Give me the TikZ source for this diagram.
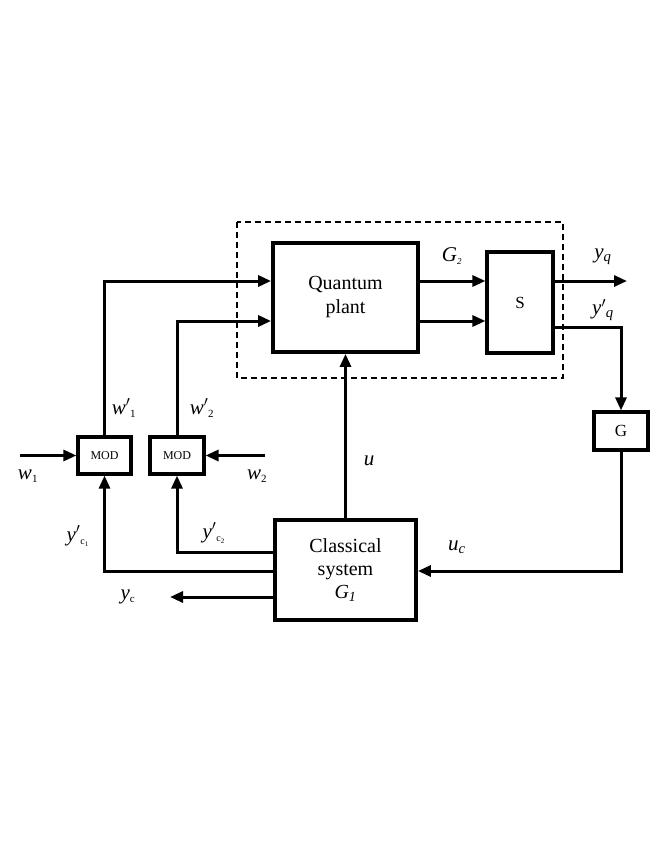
\documentclass[tikz,border=0pt]{standalone}
\usepackage{fontspec}
\setmainfont{Liberation Serif}
\usetikzlibrary{arrows.meta}
\begin{document}
\begin{tikzpicture}[x=1pt,y=-1pt,
  blk/.style={draw,line width=3.8pt,inner sep=0pt},
  sblk/.style={draw,line width=3.2pt,inner sep=0pt},
  con/.style={line width=3pt,-{Triangle[length=13pt,width=11pt]}},
  lab/.style={font=\fontsize{21}{21}\selectfont\itshape}]
\useasboundingbox (0,0) rectangle (654,845);
\draw[dashed,line width=1.3pt,dash pattern=on 6pt off 4pt] (237,222) rectangle (563,378);
\node[blk,minimum width=145pt,minimum height=109pt,align=center,font=\fontsize{20}{24}\selectfont] (qp) at (345.5,297.5) {Quantum\\plant};
\node[sblk,minimum width=66pt,minimum height=101pt,font=\fontsize{17}{17}\selectfont] (s) at (520,302.5) {S};
\node[sblk,minimum width=54pt,minimum height=38pt,font=\fontsize{17}{17}\selectfont] (g) at (621,431) {G};
\node[sblk,minimum width=53pt,minimum height=37pt,font=\fontsize{12}{12}\selectfont] (m1) at (104.5,455.5) {MOD};
\node[sblk,minimum width=54pt,minimum height=37pt,font=\fontsize{12}{12}\selectfont] (m2) at (177,455.5) {MOD};
\node[blk,minimum width=141pt,minimum height=100pt,align=center,font=\fontsize{20}{23}\selectfont] (cs) at (345.5,570) {Classical\\system\\\textit{G\textsubscript{1}}};
\coordinate (w1s) at (20,455.5);
\coordinate (w2s) at (265,455.5);
\coordinate (yqe) at (627,281);
\coordinate (yce) at (170,597);
\draw[con] (w1s) -- (m1.west);
\draw[con] (w2s) -- (m2.east);
\draw[con] (m1.north) |- (qp.west |- 0,281);
\draw[con] (m2.north) |- (qp.west |- 0,321);
\draw[con] (qp.east |- 0,281) -- (s.west |- 0,281);
\draw[con] (qp.east |- 0,321) -- (s.west |- 0,321);
\draw[con] (s.east |- yqe) -- (yqe);
\draw[con] (s.east |- 0,327) -| (g.north);
\draw[con] (g.south) |- (cs.east |- 0,571);
\draw[con] (cs.north) -- (qp.south);
\draw[con] (cs.west |- 0,552) -| (m2.south);
\draw[con] (cs.west |- 0,571) -| (m1.south);
\draw[con] (cs.west |- yce) -- (yce);
\node[lab] at (452,256) {G\textsubscript{\fontsize{9}{9}\selectfont 2}};
\node[lab] at (603,257) {y\textsubscript{q}};
\node[lab] at (603,310) {y$'$\textsubscript{q}};
\node[lab] at (124,408) {w$'$\textsubscript{\upshape\fontsize{11}{11}\selectfont 1}};
\node[lab] at (202,408) {w$'$\textsubscript{\upshape\fontsize{11}{11}\selectfont 2}};
\node[lab] at (28,476) {w\textsubscript{\upshape\fontsize{11}{11}\selectfont 1}};
\node[lab] at (257,476) {w\textsubscript{\upshape\fontsize{11}{11}\selectfont 2}};
\node[lab] at (369,461) {u};
\node[lab] at (78,536) {y$'$\textsubscript{\upshape\fontsize{10}{10}\selectfont c\textsubscript{1}}};
\node[lab] at (214,533) {y$'$\textsubscript{\upshape\fontsize{10}{10}\selectfont c\textsubscript{2}}};
\node[lab] at (457,547) {u\textsubscript{c}};
\node[lab] at (128,597) {y\textsubscript{\upshape\fontsize{11}{11}\selectfont c}};
\end{tikzpicture}
\end{document}
